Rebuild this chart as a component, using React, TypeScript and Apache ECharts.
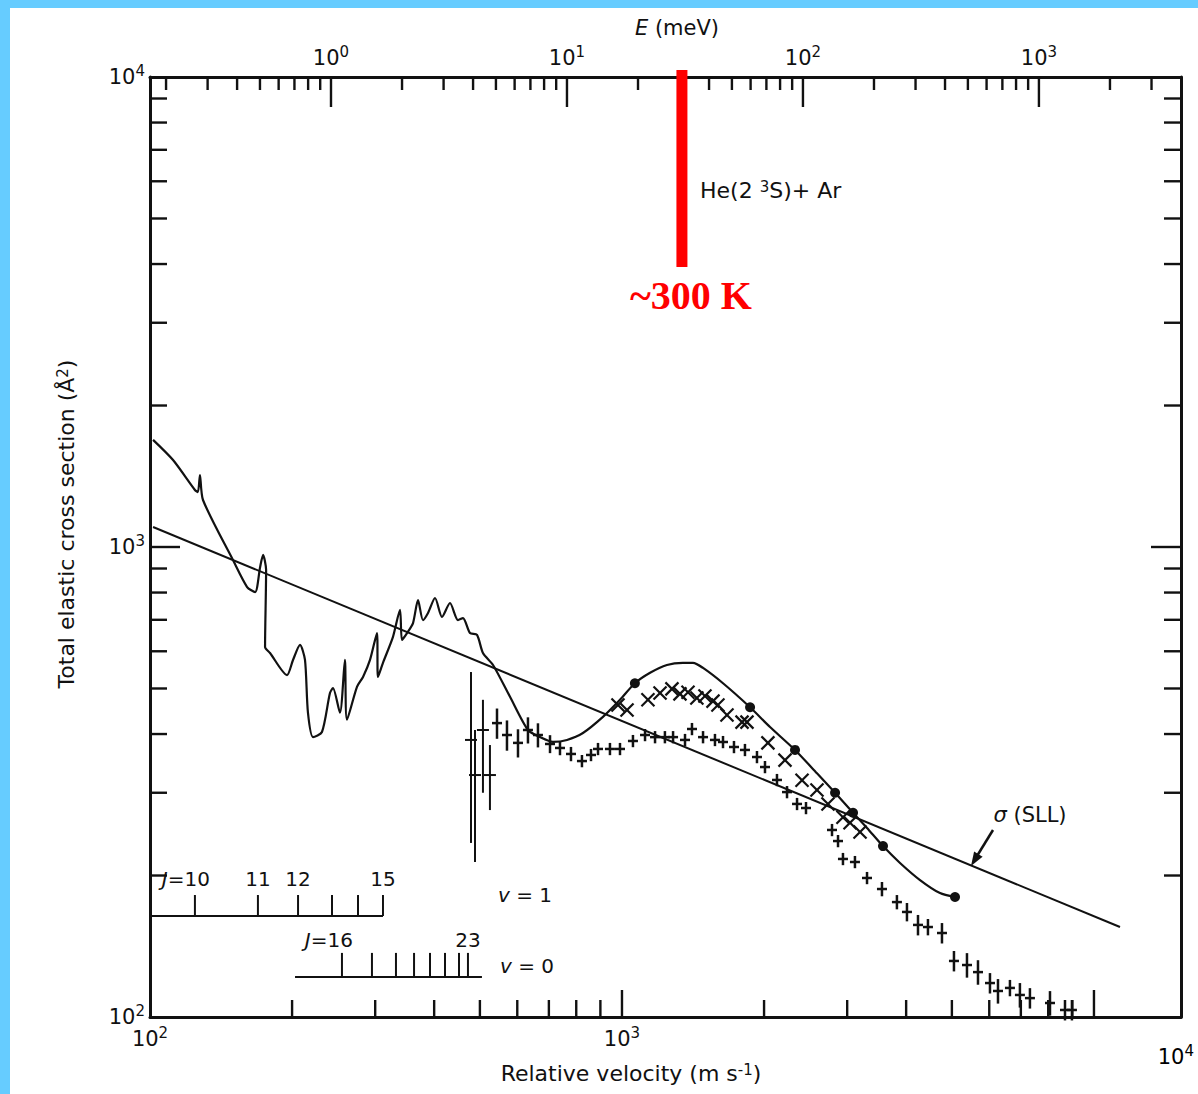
import React, { useEffect, useRef } from "react";
import * as echarts from "echarts";

// ---------------- axis ranges & tick values ----------------
const VELOCITY_RANGE = [100, 15290]; // m s-1 (bottom axis)
const SIGMA_RANGE = [100, 10000]; // Å² (left/right axis)
const ENERGY_RANGE = [0.171, 4000]; // meV (top axis)

const X_MAJOR_TICKS = [1000, 10000];
const X_MINOR_TICKS = [200, 300, 400, 500, 600, 700, 800, 900, 2000, 3000, 4000, 5000, 6000, 7000, 8000, 9000];
const E_MAJOR_TICKS = [1, 10, 100, 1000];
const E_MINOR_TICKS = [0.2, 0.3, 0.4, 0.5, 0.6, 0.7, 0.8, 0.9, 2, 3, 4, 5, 6, 7, 8, 9, 20, 30, 40, 50, 60, 70, 80, 90, 200, 300, 400, 500, 600, 700, 800, 900, 2000, 3000];
const Y_MAJOR_TICKS = [1000];
const Y_MINOR_TICKS = [200, 300, 400, 500, 600, 700, 800, 900, 2000, 3000, 4000, 5000, 6000, 7000, 8000, 9000];

// ---------------- theory curve (solid line) ----------------
const THEORY_V = [101.5, 111.9, 124.5, 126.3, 127.6, 129.5, 149.9, 160.6, 167, 171.1, 173.6, 176.2, 175.3, 179.6, 195.1, 200.9, 207.9, 213, 216.1, 221.5, 231.4, 240.6, 244.2, 252.6, 258.8, 261.4, 274.5, 282.7, 292.5, 302.6, 304.1, 311.6, 327.2, 338.6, 341.9, 350.4, 360.8, 369.7, 378.8, 388.2, 401.7, 415.6, 432.1, 449.3, 460.4, 476.4, 493, 507.5, 533.1, 579.1, 632.1, 670.6, 714.2, 764.6, 826.6, 911.3, 990.3, 1065, 1147, 1245, 1346, 1414, 1485, 1637, 1868, 2059, 2326, 2589, 2828, 3087, 3305, 3573, 3882, 4280, 4718, 5077];
const THEORY_SIGMA = [1690, 1531, 1322, 1309, 1423, 1259, 938, 822, 802, 906, 962, 894, 613, 595, 534, 575, 619, 575, 444, 394, 404, 489, 501, 444, 575, 429, 504, 529, 575, 656, 529, 567, 644, 735, 634, 656, 689, 771, 699, 724, 779, 710, 760, 699, 706, 656, 650, 595, 561, 480, 408, 394, 385, 388.6, 402, 435, 473, 513, 540, 561, 567, 567, 553, 513, 456, 414, 370, 330, 300, 272, 252.5, 231, 212.7, 195.6, 183.5, 180];

// filled dots on the theory curve
const DOT_V = [1065, 1868, 2326, 2828, 3087, 3573, 5077];
const DOT_SIGMA = [513, 456, 370, 300, 272, 231, 180];

// sigma(SLL) straight line
const SLL_V = [101.5, 11353];
const SLL_SIGMA = [1103, 155.4];

// "x" data
const CROSS_V = [980.6, 1025, 1135, 1204, 1276, 1327, 1380, 1441, 1499, 1559, 1597, 1669, 1796, 1840, 2038, 2215, 2407, 2589, 2732, 2939, 3042, 3194];
const CROSS_SIGMA = [461, 450, 473, 489, 499, 487, 491, 477, 482, 470, 461, 439, 424, 424, 383, 352, 319, 304, 284, 266, 259, 247.5];

// "+" data with relative error
const PLUS_V = [543.5, 570.6, 602.1, 632.1, 663.7, 703.9, 739, 779.7, 822.6, 859.7, 889.6, 943, 990.3, 1055, 1119, 1175, 1233, 1283, 1360, 1407, 1485, 1574, 1637, 1727, 1822, 1932, 2009, 2130, 2237, 2349, 2454, 2786, 2869, 2939, 3116, 3305, 3555, 3824, 4016, 4238, 4449, 4764, 5051, 5382, 5679, 6021, 6261, 6637, 6968, 7317, 8069, 8682, 8981];
const PLUS_SIGMA = [422, 398.1, 383, 408, 398.1, 381, 373.6, 362.8, 350.4, 361, 371.8, 371.8, 371.8, 386.6, 398.1, 394, 394, 394, 388.6, 410, 394, 388.6, 384.7, 375.4, 370, 357.4, 340.3, 319.4, 301, 284, 278.4, 250, 236.8, 216.9, 213.7, 197.6, 187.2, 175.6, 167.3, 157, 155.4, 150.9, 131.6, 129, 124.6, 118.1, 113.6, 115.3, 111.4, 109.7, 107.1, 103.5, 103.5];
const PLUS_ERR = [0.074, 0.074, 0.069, 0.064, 0.059, 0.044, 0.035, 0.035, 0.03, 0.03, 0.03, 0.03, 0.03, 0.03, 0.03, 0.03, 0.03, 0.03, 0.03, 0.03, 0.03, 0.03, 0.03, 0.03, 0.03, 0.03, 0.03, 0.03, 0.03, 0.03, 0.03, 0.03, 0.03, 0.03, 0.03, 0.03, 0.035, 0.035, 0.045, 0.05, 0.04, 0.05, 0.05, 0.06, 0.06, 0.05, 0.06, 0.04, 0.06, 0.05, 0.06, 0.05, 0.05];

// low-velocity points with large error bars
const LOWV_V = [478.7, 488.2, 507.5, 525.1];
const LOWV_SIGMA = [388.6, 327.2, 408, 327.2];
const LOWV_LO = [234.6, 213.7, 300, 275.6];
const LOWV_HI = [542, 408, 473, 379];

// rotational level markers
const LEVEL_V1_V = [124.5, 169.3, 205.9, 243, 275.9, 311.6];
const LEVEL_V1_LABELS = ["{i|J}{n|=10}", "{n|11}", "{n|12}", "", "", "{n|15}"];
const LEVEL_V1_LINE = [100, 311.6];
const LEVEL_V1_SIGMA = 164;
const LEVEL_V0_V = [255.1, 295.3, 332, 362.6, 392, 421.7, 451.5, 471.7];
const LEVEL_V0_LABELS = ["{i|J}{n|=16}", "", "", "", "", "", "", "{n|23}"];
const LEVEL_V0_LINE = [202.9, 505];
const LEVEL_V0_SIGMA = 121.7;

// ~300 K marker on the energy axis
const ROOM_TEMP_E = 30.7; // meV
const ROOM_BAR_SIGMA = 3942;

// ---------------- styling ----------------
const FONT = "DejaVu Sans";
const INK = "#111111";
const FRAME = "#66CCFF";

const richSup = {
  b: { fontSize: 21, lineHeight: 27, fontFamily: FONT, color: INK },
  s: { fontSize: 15, lineHeight: 15, fontFamily: FONT, color: INK, verticalAlign: "top" },
};

function powLabel(v: number, hide: number[] = []) {
  const l = Math.log10(v);
  const e = Math.round(l);
  if (Math.abs(l - e) > 1e-6) return "";
  if (hide.includes(e)) return "";
  return `{b|10}{s|${e}}`;
}

type Side = "bottom" | "top" | "left" | "right";
function tickSeries(values: number[], side: Side, len: number) {
  const isX = side === "bottom" || side === "top";
  return {
    type: "custom",
    xAxisIndex: side === "top" ? 1 : 0,
    yAxisIndex: 0,
    silent: true,
    z: 5,
    data: values.map((v) =>
      isX ? [v, side === "bottom" ? SIGMA_RANGE[0] : SIGMA_RANGE[1]] : [side === "left" ? VELOCITY_RANGE[0] : VELOCITY_RANGE[1], v]
    ),
    renderItem: (_p: any, api: any) => {
      const p = api.coord([api.value(0), api.value(1)]);
      const d =
        side === "bottom" ? [0, -len] : side === "top" ? [0, len] : side === "left" ? [len, 0] : [-len, 0];
      return {
        type: "line",
        shape: { x1: p[0], y1: p[1], x2: p[0] + d[0], y2: p[1] + d[1] },
        style: { stroke: INK, lineWidth: 2.4 },
      };
    },
  };
}

function levelSeries(vs: number[], labels: string[], sigma: number, tickLen: number, labelGap: number, firstRightShift: number) {
  return {
    type: "custom",
    xAxisIndex: 0,
    yAxisIndex: 0,
    silent: true,
    data: vs.map((v) => [v, sigma]),
    renderItem: (params: any, api: any) => {
      const p = api.coord([api.value(0), api.value(1)]);
      const i = params.dataIndex;
      const children: any[] = [
        { type: "line", shape: { x1: p[0], y1: p[1], x2: p[0], y2: p[1] - tickLen }, style: { stroke: INK, lineWidth: 2 } },
      ];
      const lab = labels[i];
      if (lab) {
        const first = i === 0;
        children.push({
          type: "text",
          x: first ? p[0] + firstRightShift : p[0],
          y: p[1] - tickLen - labelGap,
          style: {
            text: lab,
            align: first ? "right" : "center",
            textAlign: first ? "right" : "center",
            verticalAlign: "middle",
            textVerticalAlign: "middle",
            rich: {
              i: { fontSize: 20, fontFamily: FONT, fontStyle: "italic", fill: INK, color: INK },
              n: { fontSize: 20, fontFamily: FONT, fill: INK, color: INK },
            },
          },
        });
      }
      return { type: "group", children };
    },
  };
}

export default function App() {
  const ref = useRef<HTMLDivElement>(null);

  useEffect(() => {
    if (!ref.current) return;
    const chart = echarts.init(ref.current, undefined, { renderer: "svg" });

    const richTitle = (size: number) => ({
      n: { fontSize: size, fontFamily: FONT, fill: INK, color: INK },
      i: { fontSize: size, fontFamily: FONT, fontStyle: "italic", fill: INK, color: INK },
      s: { fontSize: Math.round(size * 0.68), fontFamily: FONT, fill: INK, color: INK, verticalAlign: "top", lineHeight: Math.round(size * 0.68) },
    });

    const option: any = {
      animation: false,
      backgroundColor: "#ffffff",
      grid: { left: 150, top: 77, width: 1031, height: 940, outerBoundsMode: "none", containLabel: false },
      xAxis: [
        {
          type: "log",
          logBase: 10,
          min: VELOCITY_RANGE[0],
          max: VELOCITY_RANGE[1],
          position: "bottom",
          axisLine: { show: true, lineStyle: { color: INK, width: 3 } },
          axisTick: { show: false },
          splitLine: { show: false },
          minorSplitLine: { show: false },
          axisLabel: { show: true, margin: 8, formatter: (v: number) => powLabel(v, [4]), rich: richSup },
        },
        {
          type: "log",
          logBase: 10,
          min: ENERGY_RANGE[0],
          max: ENERGY_RANGE[1],
          position: "top",
          axisLine: { show: true, lineStyle: { color: INK, width: 3 } },
          axisTick: { show: false },
          splitLine: { show: false },
          axisLabel: { show: true, margin: 6, formatter: (v: number) => powLabel(v), rich: richSup },
        },
      ],
      yAxis: [
        {
          type: "log",
          logBase: 10,
          min: SIGMA_RANGE[0],
          max: SIGMA_RANGE[1],
          position: "left",
          axisLine: { show: true, lineStyle: { color: INK, width: 3 } },
          axisTick: { show: false },
          splitLine: { show: false },
          axisLabel: { show: true, margin: 5, formatter: (v: number) => powLabel(v), rich: richSup },
        },
        {
          type: "log",
          logBase: 10,
          min: SIGMA_RANGE[0],
          max: SIGMA_RANGE[1],
          position: "right",
          axisLine: { show: true, lineStyle: { color: INK, width: 3 } },
          axisTick: { show: false },
          splitLine: { show: false },
          axisLabel: { show: false },
        },
      ],
      series: [
        tickSeries(X_MINOR_TICKS, "bottom", 17),
        tickSeries(X_MAJOR_TICKS, "bottom", 27),
        tickSeries(E_MINOR_TICKS, "top", 13),
        tickSeries(E_MAJOR_TICKS, "top", 30),
        tickSeries(Y_MINOR_TICKS, "left", 17),
        tickSeries(Y_MAJOR_TICKS, "left", 30),
        tickSeries(Y_MINOR_TICKS, "right", 17),
        tickSeries(Y_MAJOR_TICKS, "right", 30),
        {
          name: "σ(SLL)",
          type: "line",
          data: SLL_V.map((v, i) => [v, SLL_SIGMA[i]]),
          showSymbol: false,
          symbol: "none",
          lineStyle: { color: INK, width: 2 },
          silent: true,
          z: 3,
        },
        {
          name: "theory",
          type: "line",
          data: THEORY_V.map((v, i) => [v, THEORY_SIGMA[i]]),
          showSymbol: false,
          symbol: "none",
          smooth: 0.25,
          lineStyle: { color: INK, width: 2.2 },
          silent: true,
          z: 3,
        },
        {
          name: "calc points",
          type: "scatter",
          data: DOT_V.map((v, i) => [v, DOT_SIGMA[i]]),
          symbol: "circle",
          symbolSize: 10,
          itemStyle: { color: INK, opacity: 1 },
          silent: true,
          z: 4,
        },
        {
          name: "x data",
          type: "custom",
          silent: true,
          z: 4,
          data: CROSS_V.map((v, i) => [v, CROSS_SIGMA[i]]),
          renderItem: (_p: any, api: any) => {
            const c = api.coord([api.value(0), api.value(1)]);
            const h = 6.5;
            return {
              type: "group",
              children: [
                { type: "line", shape: { x1: c[0] - h, y1: c[1] - h, x2: c[0] + h, y2: c[1] + h }, style: { stroke: INK, lineWidth: 2.2 } },
                { type: "line", shape: { x1: c[0] - h, y1: c[1] + h, x2: c[0] + h, y2: c[1] - h }, style: { stroke: INK, lineWidth: 2.2 } },
              ],
            };
          },
        },
        {
          name: "+ data",
          type: "custom",
          silent: true,
          z: 4,
          data: PLUS_V.map((v, i) => [v, PLUS_SIGMA[i], PLUS_ERR[i]]),
          renderItem: (_p: any, api: any) => {
            const v = api.value(0);
            const s = api.value(1);
            const e = api.value(2);
            const c = api.coord([v, s]);
            const hi = api.coord([v, s * (1 + e)]);
            const lo = api.coord([v, s * (1 - e)]);
            const yTop = Math.min(hi[1], c[1] - 6);
            const yBot = Math.max(lo[1], c[1] + 6);
            return {
              type: "group",
              children: [
                { type: "line", shape: { x1: c[0], y1: yTop, x2: c[0], y2: yBot }, style: { stroke: INK, lineWidth: 2.5 } },
                { type: "line", shape: { x1: c[0] - 5, y1: c[1], x2: c[0] + 5, y2: c[1] }, style: { stroke: INK, lineWidth: 2.5 } },
              ],
            };
          },
        },
        {
          name: "low-v data",
          type: "custom",
          silent: true,
          z: 4,
          data: LOWV_V.map((v, i) => [v, LOWV_SIGMA[i], LOWV_LO[i], LOWV_HI[i]]),
          renderItem: (_p: any, api: any) => {
            const v = api.value(0);
            const c = api.coord([v, api.value(1)]);
            const lo = api.coord([v, api.value(2)]);
            const hi = api.coord([v, api.value(3)]);
            return {
              type: "group",
              children: [
                { type: "line", shape: { x1: c[0], y1: hi[1], x2: c[0], y2: lo[1] }, style: { stroke: INK, lineWidth: 2 } },
                { type: "line", shape: { x1: c[0] - 6, y1: c[1], x2: c[0] + 6, y2: c[1] }, style: { stroke: INK, lineWidth: 2 } },
              ],
            };
          },
        },
        {
          name: "v=1 line",
          type: "line",
          data: LEVEL_V1_LINE.map((v) => [v, LEVEL_V1_SIGMA]),
          showSymbol: false,
          symbol: "none",
          lineStyle: { color: INK, width: 2 },
          silent: true,
        },
        {
          name: "v=0 line",
          type: "line",
          data: LEVEL_V0_LINE.map((v) => [v, LEVEL_V0_SIGMA]),
          showSymbol: false,
          symbol: "none",
          lineStyle: { color: INK, width: 2 },
          silent: true,
        },
        levelSeries(LEVEL_V1_V, LEVEL_V1_LABELS, LEVEL_V1_SIGMA, 21, 16, 15),
        levelSeries(LEVEL_V0_V, LEVEL_V0_LABELS, LEVEL_V0_SIGMA, 24, 13, 11),
        {
          name: "~300 K",
          type: "custom",
          xAxisIndex: 1,
          yAxisIndex: 0,
          silent: true,
          z: 10,
          data: [[ROOM_TEMP_E, ROOM_BAR_SIGMA]],
          renderItem: (_p: any, api: any) => {
            const top = api.coord([api.value(0), SIGMA_RANGE[1]]);
            const bot = api.coord([api.value(0), api.value(1)]);
            return {
              type: "group",
              children: [
                { type: "rect", shape: { x: bot[0] - 5.5, y: top[1] - 7, width: 11, height: bot[1] - top[1] + 7 }, style: { fill: "#FF0000" } },
                {
                  type: "text",
                  x: bot[0] + 9,
                  y: bot[1] + 28,
                  style: {
                    text: "~300 K",
                    fill: "#FF0000",
                    fontSize: 40,
                    fontWeight: "bold",
                    fontFamily: "Liberation Serif",
                    align: "center",
                    textAlign: "center",
                    verticalAlign: "middle",
                    textVerticalAlign: "middle",
                  },
                },
              ],
            };
          },
        },
      ],
      graphic: [
        { type: "rect", silent: true, shape: { x: 0, y: 0, width: 10, height: 1094 }, style: { fill: FRAME } },
        { type: "rect", silent: true, shape: { x: 0, y: 0, width: 1198, height: 8 }, style: { fill: FRAME } },
        {
          type: "text",
          x: 677,
          y: 28,
          style: { text: "{i|E}{n| (meV)}", rich: richTitle(21), align: "center", textAlign: "center", verticalAlign: "middle", textVerticalAlign: "middle" },
        },
        {
          type: "text",
          x: 631,
          y: 1073,
          style: { text: "{n|Relative velocity (m s}{s|-1}{n|)}", rich: richTitle(22), align: "center", textAlign: "center", verticalAlign: "middle", textVerticalAlign: "middle" },
        },
        {
          type: "text",
          x: 66,
          y: 524,
          rotation: Math.PI / 2,
          style: { text: "{n|Total elastic cross section (Å}{s|2}{n|)}", rich: richTitle(22), align: "center", textAlign: "center", verticalAlign: "middle", textVerticalAlign: "middle" },
        },
        {
          type: "text",
          x: 1194,
          y: 1057,
          style: { text: "{b|10}{s|4}", rich: richSup, align: "right", textAlign: "right", verticalAlign: "middle", textVerticalAlign: "middle" },
        },
        {
          type: "text",
          x: 700,
          y: 190,
          style: { text: "{n|He(2 }{s|3}{n|S)+ Ar}", rich: richTitle(22), align: "left", textAlign: "left", verticalAlign: "middle", textVerticalAlign: "middle" },
        },
        {
          type: "text",
          x: 1030,
          y: 815,
          style: { text: "{i|σ}{n| (SLL)}", rich: richTitle(21), align: "center", textAlign: "center", verticalAlign: "middle", textVerticalAlign: "middle" },
        },
        {
          type: "text",
          x: 525,
          y: 895,
          style: { text: "{i|v}{n| = 1}", rich: richTitle(20), align: "center", textAlign: "center", verticalAlign: "middle", textVerticalAlign: "middle" },
        },
        {
          type: "text",
          x: 527,
          y: 966,
          style: { text: "{i|v}{n| = 0}", rich: richTitle(20), align: "center", textAlign: "center", verticalAlign: "middle", textVerticalAlign: "middle" },
        },
        { type: "line", silent: true, shape: { x1: 993, y1: 830, x2: 977, y2: 856 }, style: { stroke: INK, lineWidth: 2.5 } },
        { type: "polygon", silent: true, shape: { points: [[971, 866], [982.6, 856.7], [974.1, 851.5]] }, style: { fill: INK } },
      ],
    };

    chart.setOption(option);
    return () => chart.dispose();
  }, []);

  return (
    <div
      ref={ref}
      style={{ position: "fixed", left: 0, top: 0, width: 1198, height: 1094, background: "#ffffff" }}
    />
  );
}
